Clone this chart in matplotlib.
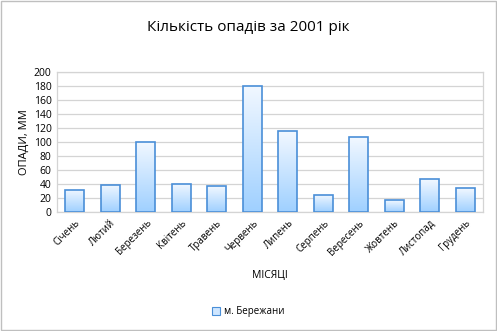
import numpy as np
import matplotlib
matplotlib.use('Agg')
import matplotlib.pyplot as plt
from matplotlib.colors import LinearSegmentedColormap
from matplotlib.patches import Rectangle

plt.rcParams['font.family'] = ['Open Sans', 'DejaVu Sans']

months = ['Січень', 'Лютий', 'Березень', 'Квітень', 'Травень', 'Червень',
          'Липень', 'Серпень', 'Вересень', 'Жовтень', 'Листопад', 'Грудень']
rain_mm = [32, 39, 100, 40, 37, 180, 115, 25, 107, 17, 47, 34]
yticks = list(range(0, 201, 20))

fig = plt.figure(figsize=(4.97, 3.31), dpi=100)
ax = fig.add_axes([0.115, 0.3595, 0.857, 0.423])

# gradient fill: pale at top, light blue at the base
cmap = LinearSegmentedColormap.from_list('bar', ['#9fd0ff', '#f2f8ff'])
grad = np.linspace(0, 1, 256).reshape(-1, 1)

x = np.arange(len(months))
bars = ax.bar(x, rain_mm, width=0.53, facecolor='none',
              edgecolor='#4a8fd8', linewidth=1.2, zorder=3, label='м. Бережани')
for b in bars:
    x0, y0 = b.get_x(), b.get_y()
    w, h = b.get_width(), b.get_height()
    im = ax.imshow(grad, cmap=cmap, origin='lower', aspect='auto',
                   extent=(x0, x0 + w, y0, y0 + h), zorder=2)
    im.set_clip_path(b)

ax.set_xlim(-0.5, len(months) - 0.5)
ax.set_ylim(0, 200)
ax.set_yticks(yticks)
ax.set_xticks(x)
ax.set_xticklabels(months, rotation=45, ha='right', rotation_mode='anchor',
                   fontsize=7)
ax.tick_params(axis='y', labelsize=7.5, length=0, pad=4)
ax.tick_params(axis='x', length=0, pad=4)
ax.grid(axis='y', color='#d4d4d4', linewidth=0.9, zorder=0)
for s in ax.spines.values():
    s.set_color('#d4d4d4')
    s.set_linewidth(0.9)

ax.set_xlabel('МІСЯЦІ', fontsize=7.5, labelpad=9)
ax.set_ylabel('ОПАДИ, ММ', fontsize=8, labelpad=3)
fig.suptitle('Кількість опадів за 2001 рік', fontsize=11, y=0.94)

handle = Rectangle((0, 0), 1, 1, facecolor='#cfe6ff', edgecolor='#4a8fd8',
                   linewidth=0.8)
fig.legend([handle], ['м. Бережани'], loc='center', bbox_to_anchor=(0.5, 0.058),
           frameon=False, fontsize=7, handlelength=0.8, handleheight=0.8,
           handletextpad=0.4)

# outer chart border
fig.patches.append(Rectangle((0.003, 0.003), 0.994, 0.994, transform=fig.transFigure,
                             fill=False, edgecolor='#bfbfbf', linewidth=1))

fig.savefig('out.png', dpi=100)
